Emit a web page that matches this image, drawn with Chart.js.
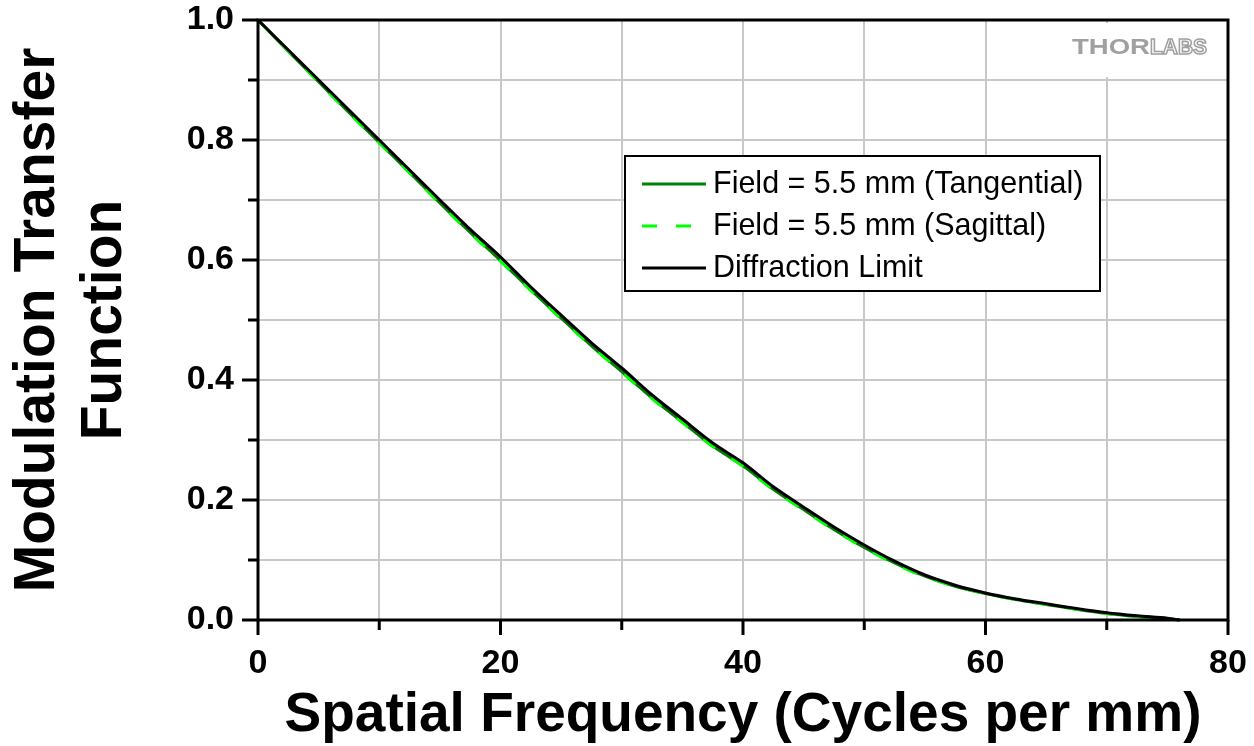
<!DOCTYPE html>
<html>
<head>
<meta charset="utf-8">
<script src="https://cdn.jsdelivr.net/npm/chart.js@4/dist/chart.umd.min.js"></script>
<style>
  html, body { margin: 0; padding: 0; background: #ffffff; }
  #c { display: block; }
</style>
</head>
<body>
<canvas id="c" width="1254" height="746"></canvas>
<script>
// ---- Data ----
const freq        = [0, 2.5, 5, 7.5, 10, 12.5, 15, 17.5, 20, 22.5, 25, 27.5, 30, 32.5, 35, 37.5, 40, 42.5, 45, 47.5, 50, 52.5, 55, 57.5, 60, 62.5, 65, 67.5, 70, 72.5, 75, 76];
const diffraction = [1.0, 0.950, 0.900, 0.850, 0.800, 0.750, 0.700, 0.651, 0.605, 0.555, 0.508, 0.462, 0.420, 0.375, 0.335, 0.295, 0.262, 0.222, 0.188, 0.155, 0.125, 0.098, 0.075, 0.058, 0.045, 0.035, 0.027, 0.019, 0.012, 0.007, 0.003, 0.0];
const tangential  = [1.0, 0.948, 0.897, 0.846, 0.796, 0.746, 0.695, 0.646, 0.599, 0.550, 0.503, 0.457, 0.414, 0.370, 0.330, 0.290, 0.257, 0.218, 0.184, 0.151, 0.121, 0.095, 0.073, 0.056, 0.044, 0.034, 0.026, 0.018, 0.011, 0.006, 0.002, 0.0];
const sagittal    = [1.0, 0.948, 0.896, 0.845, 0.795, 0.745, 0.694, 0.645, 0.598, 0.549, 0.502, 0.456, 0.413, 0.369, 0.329, 0.289, 0.256, 0.217, 0.183, 0.150, 0.120, 0.094, 0.072, 0.056, 0.044, 0.034, 0.026, 0.018, 0.011, 0.006, 0.002, 0.0];
const seriesLabels = ['Field = 5.5 mm (Tangential)', 'Field = 5.5 mm (Sagittal)', 'Diffraction Limit'];
const xTickLabels = ['0', '20', '40', '60', '80'];
const yTickLabels = ['0.0', '0.2', '0.4', '0.6', '0.8', '1.0'];
const xTitle = 'Spatial Frequency (Cycles per mm)';
const yTitle = ['Modulation Transfer', 'Function'];

const toPts = (ys) => freq.map((x, i) => ({ x: x, y: ys[i] }));

const FONT = '"Liberation Sans", Arial, sans-serif';

// custom ticks, frame, logo and legend
const decor = {
  id: 'decor',
  afterDatasetsDraw(chart) {
    const { ctx, chartArea: a, scales } = chart;
    const xs = scales.x, ys = scales.y;
    ctx.save();
    // logo background + logo
    ctx.fillStyle = '#ffffff';
    ctx.fillRect(1062, 23, 164, 54);
    ctx.textBaseline = 'alphabetic';
    ctx.font = 'bold 22px ' + FONT;
    let w1 = ctx.measureText('THOR').width;
    ctx.save();
    ctx.translate(1072, 54);
    ctx.scale(78 / w1, 1);
    ctx.fillStyle = '#a0a0a0';
    ctx.fillText('THOR', 0, 0);
    ctx.restore();
    let w2 = ctx.measureText('LABS').width;
    ctx.save();
    ctx.translate(1150, 54);
    ctx.scale(57 / w2, 1);
    ctx.strokeStyle = '#a0a0a0';
    ctx.lineWidth = 1.6;
    ctx.strokeText('LABS', 0, 0);
    ctx.restore();

    // frame
    ctx.strokeStyle = '#000000';
    ctx.lineWidth = 3;
    ctx.strokeRect(a.left, a.top, a.right - a.left, a.bottom - a.top);

    // ticks (outside; major labelled longer)
    ctx.lineWidth = 3;
    ctx.beginPath();
    for (let v = 0; v <= 80; v += 10) {
      const px = xs.getPixelForValue(v);
      const len = (v % 20 === 0) ? 15 : 10;
      ctx.moveTo(px, a.bottom);
      ctx.lineTo(px, a.bottom + len);
    }
    for (let k = 0; k <= 10; k++) {
      const py = ys.getPixelForValue(k / 10);
      const len = (k % 2 === 0) ? 16 : 10;
      ctx.moveTo(a.left, py);
      ctx.lineTo(a.left - len, py);
    }
    ctx.stroke();

    // legend
    const lx = 625, ly = 156, lw = 475, lh = 135;
    ctx.fillStyle = '#ffffff';
    ctx.fillRect(lx, ly, lw, lh);
    ctx.strokeStyle = '#000000';
    ctx.lineWidth = 2;
    ctx.strokeRect(lx, ly, lw, lh);
    const order = [0, 1, 2];
    const rowsY = [184, 226, 268];
    ctx.font = '30.5px ' + FONT;
    ctx.textBaseline = 'middle';
    order.forEach((di, r) => {
      const ds = chart.data.datasets[di];
      ctx.beginPath();
      ctx.strokeStyle = ds.borderColor;
      ctx.lineWidth = 3;
      ctx.setLineDash(ds.borderDash || []);
      ctx.moveTo(642, rowsY[r]);
      ctx.lineTo(706, rowsY[r]);
      ctx.stroke();
      ctx.setLineDash([]);
      ctx.fillStyle = '#000000';
      ctx.fillText(ds.label, 713, rowsY[r] + 1);
    });
    ctx.restore();
  }
};

function noPad(s) {
  s.paddingTop = 0; s.paddingBottom = 0; s.paddingLeft = 0; s.paddingRight = 0;
}

new Chart(document.getElementById('c'), {
  type: 'line',
  data: {
    datasets: [
      { label: seriesLabels[0], data: toPts(tangential), borderColor: '#008000', borderWidth: 3, pointRadius: 0, tension: 0.3, order: 2, clip: false },
      { label: seriesLabels[1], data: toPts(sagittal), borderColor: '#00ff00', borderWidth: 3, borderDash: [15, 19], pointRadius: 0, tension: 0.3, order: 1, clip: false },
      { label: seriesLabels[2], data: toPts(diffraction), borderColor: '#000000', borderWidth: 3, pointRadius: 0, tension: 0.3, order: 0, clip: false }
    ]
  },
  options: {
    responsive: false,
    animation: false,
    events: [],
    layout: { padding: { top: 20, right: 26, left: 0, bottom: 0 } },
    plugins: { legend: { display: false }, tooltip: { enabled: false } },
    scales: {
      x: {
        type: 'linear', min: 0, max: 80,
        afterFit(s) { s.height = 126; noPad(s); },
        grid: { color: '#c8c8c8', lineWidth: 2, drawTicks: false },
        border: { display: false },
        ticks: {
          stepSize: 10, padding: 23, color: '#000000',
          font: { family: FONT, size: 34, weight: 'bold' },
          maxRotation: 0, autoSkip: false,
          callback: (v) => (v % 20 === 0 ? xTickLabels[v / 20] : '')
        },
        title: {
          display: true, text: xTitle, color: '#000000',
          font: { family: FONT, size: 55, weight: 'bold', lineHeight: 1.0 },
          padding: { top: 0, bottom: 3 }
        }
      },
      y: {
        type: 'linear', min: 0, max: 1,
        afterFit(s) { s.width = 258; noPad(s); },
        grid: { color: '#c8c8c8', lineWidth: 2, drawTicks: false },
        border: { display: false },
        ticks: {
          stepSize: 0.1, padding: 24, color: '#000000',
          font: { family: FONT, size: 34, weight: 'bold' },
          autoSkip: false,
          callback: (v) => { const k = Math.round(v * 10); return k % 2 === 0 ? yTickLabels[k / 2] : ''; }
        },
        title: {
          display: true, text: yTitle, color: '#000000',
          font: { family: FONT, size: 57, weight: 'bold', lineHeight: 1.19 },
          padding: { top: 4, bottom: 0 }
        }
      }
    }
  },
  plugins: [decor]
});
</script>
</body>
</html>
